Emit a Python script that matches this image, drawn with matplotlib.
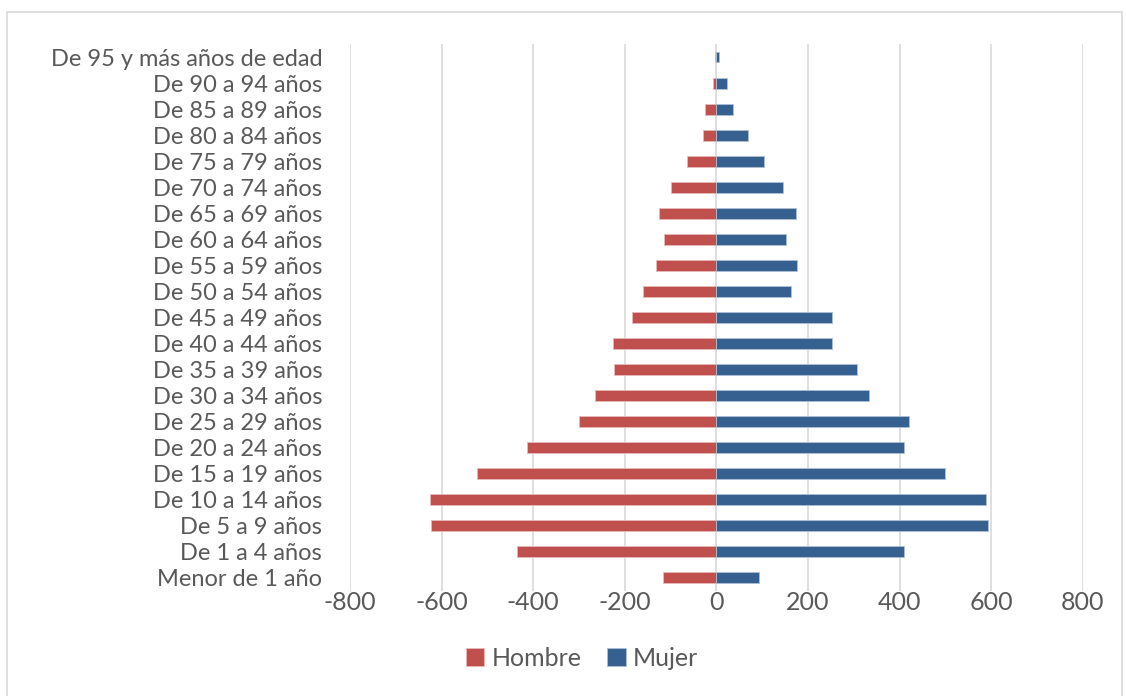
import matplotlib.pyplot as plt
from matplotlib.patches import Rectangle
import numpy as np

plt.rcParams['font.family'] = ['Lato', 'DejaVu Sans']

# age groups, bottom to top
grupos = ['Menor de 1 año', 'De 1 a 4 años', 'De 5 a 9 años', 'De 10 a 14 años',
          'De 15 a 19 años', 'De 20 a 24 años', 'De 25 a 29 años', 'De 30 a 34 años',
          'De 35 a 39 años', 'De 40 a 44 años', 'De 45 a 49 años', 'De 50 a 54 años',
          'De 55 a 59 años', 'De 60 a 64 años', 'De 65 a 69 años', 'De 70 a 74 años',
          'De 75 a 79 años', 'De 80 a 84 años', 'De 85 a 89 años', 'De 90 a 94 años',
          'De 95 y más años de edad']
hombre = [-116, -436, -624, -625, -523, -413, -301, -265, -224, -225, -185,
          -161, -133, -115, -125, -99, -65, -30, -26, -7, -3]
mujer = [93, 410, 593, 588, 498, 410, 420, 333, 307, 252, 252,
         163, 176, 152, 173, 146, 104, 68, 35, 22, 6]
xticks = [-800, -600, -400, -200, 0, 200, 400, 600, 800]

rojo = '#C0504D'
azul = '#35608F'
gris = '#595959'

fig = plt.figure(figsize=(11.26, 6.96), dpi=100)
ax = fig.add_axes([0.3108, 0.1509, 0.651, 0.7859])

y = np.arange(len(grupos))
ax.barh(y, hombre, height=0.42, color=rojo, edgecolor='#E8B9B8', linewidth=0.6, label='Hombre', zorder=3)
ax.barh(y, mujer, height=0.42, color=azul, edgecolor='#AFC0D6', linewidth=0.6, label='Mujer', zorder=3)

ax.set_xlim(-800, 800)
ax.set_ylim(-0.5, len(grupos) - 0.5)
ax.set_xticks(xticks)
ax.set_xticklabels([str(v) for v in xticks])
ax.set_yticks(y)
ax.set_yticklabels(grupos)
ax.tick_params(axis='both', length=0, colors=gris)
ax.tick_params(axis='x', pad=0, labelsize=18)
ax.tick_params(axis='y', pad=20, labelsize=17)
ax.grid(axis='x', color='#D9D9D9', linewidth=1.2, zorder=0)
for s in ax.spines.values():
    s.set_visible(False)

fig.legend(loc='center', bbox_to_anchor=(582 / 1126, 1 - 658 / 696), ncol=2,
           frameon=False, fontsize=18, labelcolor=gris, handlelength=0.75,
           handleheight=0.75, handletextpad=0.3, columnspacing=1.0)

fig.patches.append(Rectangle((7 / 1126, -0.01), 1115 / 1126, 1 - 12 / 696 + 0.01,
                             transform=fig.transFigure, fill=False,
                             edgecolor='#D9D9D9', linewidth=1.2))

fig.savefig('out.png', dpi=100)
